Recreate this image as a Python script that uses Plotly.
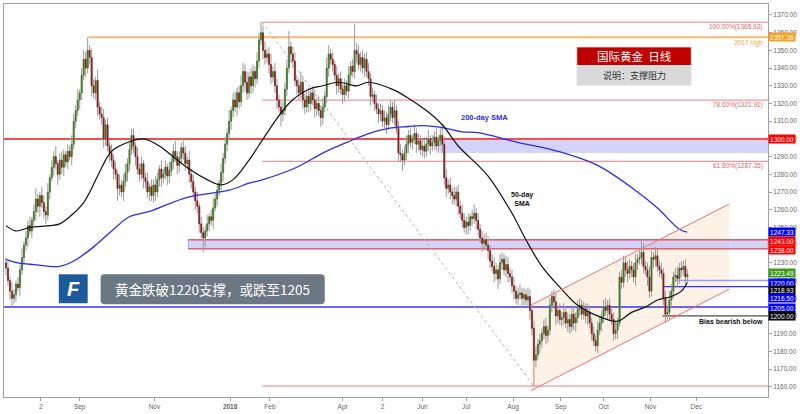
import plotly.graph_objects as go

# ---------------- data ----------------
closes = [
    1227, 1220, 1214, 1210, 1212, 1218, 1216, 1226, 1233, 1240,
    1244, 1251, 1248, 1254, 1259, 1266, 1262, 1268, 1264, 1259,
    1257, 1270, 1278, 1284, 1290, 1286, 1280, 1288, 1284, 1291,
    1287, 1293, 1290, 1297, 1310, 1316, 1322, 1326, 1336, 1345,
    1340, 1350, 1346, 1330, 1326, 1333, 1318, 1314, 1312, 1300,
    1308, 1296, 1292, 1288, 1283, 1280, 1272, 1274, 1270, 1276,
    1281, 1286, 1294, 1302, 1296, 1290, 1283, 1280, 1286, 1278,
    1276, 1270, 1273, 1268, 1274, 1270, 1277, 1283, 1278, 1280,
    1284, 1279, 1282, 1287, 1293, 1290, 1285, 1289, 1295, 1292,
    1286, 1288, 1280, 1276, 1270, 1265, 1262, 1252, 1247, 1244,
    1248, 1252, 1256, 1254, 1261, 1266, 1271, 1275, 1281, 1289,
    1297, 1303, 1310, 1316, 1322, 1318, 1326, 1321, 1330, 1338,
    1332, 1326, 1335, 1330, 1338, 1334, 1344, 1356, 1360, 1350,
    1346, 1348, 1342, 1335, 1338, 1330, 1322, 1318, 1314, 1316,
    1328, 1340, 1352, 1348, 1344, 1333, 1330, 1326, 1332, 1322,
    1318, 1324, 1320, 1326, 1322, 1317, 1320, 1316, 1312, 1318,
    1324, 1340, 1348, 1345, 1342, 1336, 1330, 1334, 1328, 1325,
    1330, 1327, 1336, 1341, 1338, 1350, 1348, 1342, 1346, 1340,
    1345, 1338, 1334, 1324, 1325, 1320, 1317, 1314, 1316, 1310,
    1312, 1308, 1314, 1318, 1312, 1316, 1306, 1292, 1291, 1288,
    1292, 1297, 1302, 1298, 1300, 1303, 1297, 1299, 1294, 1296,
    1293, 1297, 1300, 1296, 1298, 1301, 1296, 1299, 1302, 1297,
    1278, 1272, 1274, 1270, 1268, 1266, 1270, 1262, 1258, 1254,
    1250, 1253, 1251, 1256, 1255, 1258, 1254, 1249, 1244, 1241,
    1243, 1240, 1237, 1231, 1228, 1224, 1226, 1221, 1230, 1232,
    1226, 1229, 1224, 1222, 1217, 1214, 1210, 1212, 1213, 1210,
    1212, 1209, 1211, 1203, 1193, 1175, 1178, 1184, 1186, 1190,
    1194, 1189, 1192, 1206, 1211, 1208, 1200, 1203, 1198, 1199,
    1202, 1196, 1198, 1194, 1201, 1196, 1199, 1204, 1206, 1201,
    1204, 1200, 1202, 1196, 1190, 1186, 1183, 1192, 1196, 1200,
    1205, 1203, 1206, 1201, 1198, 1190, 1192, 1196, 1222, 1219,
    1230, 1226, 1224, 1228, 1226, 1222, 1230, 1232, 1233, 1236,
    1228, 1226, 1222, 1214, 1233, 1232, 1234, 1228, 1226, 1224,
    1210, 1201, 1202, 1209, 1214, 1222, 1223, 1221, 1227, 1226,
    1228, 1222, 1223.49,
]
first_open = 1230

upper_wick = [
    3, 4, 2, 5, 3, 2, 4, 3, 5, 2,
    4, 3, 5, 2, 4, 6, 3, 2, 5, 4,
    3, 5, 2, 4, 3, 6, 2, 4, 5, 3,
    2, 4, 3, 5, 4, 3, 6, 2, 4, 5,
    4, 7.4, 3, 5, 4, 2, 6, 3, 4, 5,
    3, 4, 2, 5, 3, 4, 2, 6, 3, 4,
    5, 3, 4, 3.5, 4, 2, 5, 3, 4, 2,
    3, 5, 2, 4, 3, 5, 4, 2, 5, 3,
    4, 2, 5, 3, 4, 6, 3, 4, 3, 5,
    4, 2, 5, 3, 4, 3, 5, 2, 4, 3,
    3, 5, 2, 4, 6, 3, 4, 2, 5, 3,
    4, 3, 6, 2, 4, 5, 3, 4, 6, 5,
    4, 6, 3, 5, 4, 3, 5, 4, 5.92, 4,
    5, 3, 4, 6, 3, 5, 4, 3, 4, 5,
    4, 5, 9, 3, 4, 5, 3, 4, 6, 3,
    4, 3, 5, 2, 4, 6, 3, 4, 3, 5,
    3, 6, 5, 3, 4, 2, 5, 3, 4, 3,
    4, 3, 5, 3, 4, 15, 4, 5, 3, 4,
    3, 4, 5, 3, 4, 2, 5, 3, 4, 3,
    4, 3, 5, 4, 3, 6, 3, 4, 5, 3,
    4, 5, 3, 4, 2, 5, 3, 4, 3, 4,
    3, 4, 5, 2, 4, 3, 5, 3, 4, 6,
    4, 5, 3, 4, 2, 5, 3, 4, 3, 5,
    4, 3, 5, 2, 4, 5, 3, 4, 3, 4,
    3, 4, 5, 3, 4, 5, 4, 3, 5, 4,
    3, 5, 4, 3, 4, 5, 3, 4, 5, 3,
    4, 3, 5, 4, 3, 4, 5, 3, 4, 3,
    4, 5, 3, 4, 3, 4, 5, 3, 4, 3,
    5, 3, 4, 3, 5, 4, 3, 5, 4, 3,
    4, 3, 5, 4, 3, 4, 3, 5, 4, 3,
    4, 5, 3, 4, 3, 4, 5, 3, 3, 4,
    4, 3, 5, 4, 3, 4, 5, 3, 4, 7,
    5, 3, 4, 6, 4, 3, 5, 4, 3, 4,
    3, 4, 3, 5, 4, 3, 4, 5, 3, 4,
    3, 4, 3,
]
lower_wick = [
    4, 3, 5, 5, 3, 4, 2, 5, 3, 4,
    3, 5, 2, 4, 3, 5, 4, 6, 3, 4,
    5, 3, 4, 2, 5, 3, 6, 3, 4, 5,
    3, 4, 2, 5, 3, 4, 3, 5, 4, 3,
    5, 3, 4, 6, 3, 4, 5, 3, 4, 5,
    4, 3, 5, 4, 6, 3, 7, 4, 3, 5,
    3, 5, 4, 3, 4, 5, 3, 4, 3, 6,
    4, 3, 5, 3, 4, 5, 3, 4, 5, 3,
    3, 5, 4, 3, 4, 3, 5, 4, 3, 4,
    4, 3, 5, 4, 3, 5, 4, 5, 3, 8,
    5, 3, 4, 3, 5, 2, 4, 3, 4, 5,
    3, 4, 3, 5, 4, 3, 5, 4, 3, 4,
    5, 4, 3, 5, 4, 5, 3, 4, 3, 5,
    4, 3, 5, 4, 3, 4, 5, 3, 7, 4,
    3, 4, 3, 5, 4, 3, 5, 4, 3, 5,
    4, 3, 5, 4, 3, 5, 4, 3, 5, 4,
    3, 4, 5, 3, 4, 3, 5, 4, 3, 5,
    4, 3, 4, 5, 3, 4, 5, 3, 4, 3,
    5, 3, 4, 5, 3, 4, 3, 5, 4, 3,
    4, 5, 3, 4, 3, 4, 3, 5, 4, 6,
    3, 4, 5, 3, 4, 3, 5, 4, 3, 4,
    4, 3, 4, 5, 3, 4, 3, 4, 3, 5,
    4, 5, 3, 4, 5, 3, 4, 5, 3, 4,
    3, 4, 5, 3, 4, 3, 5, 4, 3, 5,
    4, 3, 5, 4, 3, 5, 4, 6, 3, 4,
    3, 4, 5, 3, 4, 5, 3, 4, 3, 5,
    4, 3, 4, 5, 4, 14.63, 4, 3, 5, 4,
    3, 5, 4, 3, 4, 3, 5, 4, 3, 4,
    4, 3, 5, 4, 3, 4, 5, 3, 4, 3,
    3, 4, 5, 3, 4, 3, 3, 4, 3, 5,
    4, 3, 5, 4, 3, 4, 3, 5, 2, 4,
    3, 4, 5, 3, 4, 3, 5, 4, 3, 4,
    4, 3, 5, 4, 3, 5, 4, 3, 4, 3,
    4, 5, 3, 4, 3, 4, 3, 5, 3, 4,
    3, 4, 3,
]

sma50_bars = [0, 5, 12, 22, 27, 32, 39, 46, 51, 54, 61, 69, 77, 86, 92, 101, 108, 114, 122,
              132, 142, 152, 159, 167, 176, 182, 194, 202, 211, 219, 227, 237, 242, 254,
              261, 269, 279, 287, 297, 307, 314, 321, 327, 334, 339, 342]
sma50_vals = [1251, 1248, 1250, 1251, 1252, 1256, 1264, 1279, 1290, 1294, 1298, 1300, 1296,
              1288, 1283, 1277, 1274, 1277, 1288, 1305, 1320, 1328, 1330, 1332, 1330, 1332,
              1328, 1323, 1316, 1308, 1296, 1285, 1279, 1258, 1243, 1228, 1215, 1206, 1200,
              1197, 1202, 1205, 1209, 1211, 1214, 1218.93]

sma200_bars = [0, 6, 14, 27, 34, 44, 54, 62, 72, 91, 112, 122, 129, 146, 159, 171, 182, 192,
               202, 209, 221, 229, 237, 257, 277, 297, 317, 327, 338, 342]
sma200_vals = [1232, 1230, 1229, 1228, 1231, 1239, 1249, 1256, 1259, 1267, 1271, 1275, 1277,
               1284, 1292, 1298, 1303, 1306, 1307, 1307.5, 1306, 1304, 1303.5, 1298, 1293,
               1285, 1270, 1261, 1249, 1247.33]

tick_bars = [17.5, 37, 74.5, 112.5, 132.5, 169, 189, 209, 231, 254.5, 278.5, 300, 323.5, 346.5]
tick_text = ["2", "Sep", "Nov", "<b>2018</b>", "Feb", "Apr", "2", "Jun", "Jul", "Aug",
             "Sep", "Oct", "Nov", "Dec"]

# key levels
fib_levels = [1365.92, 1321.91, 1287.35, 1160.37]
fib_labels = ["100.00%(1365.92)", "78.60%(1321.91)", "61.80%(1287.35)", ""]
high_2017 = 1357.36
res_1300 = 1300.00
zone_top_low = 1292.1
zone2_hi, zone2_lo = 1243.00, 1238.00
lvl_1220, lvl_1216, lvl_1205, lvl_1200 = 1220.00, 1216.50, 1205.00, 1200.00

# fib swing (Jan high -> Aug low), channel anchors
swing_start_bar, swing_end_bar = 128.5, 265
chan_up = [(263.5, 1206.1), (363, 1263.2)]
chan_lo = [(263.5, 1157.8), (363, 1215.1)]

# right-axis price tags: value, colour, vertical nudge (px)
tag_vals = [1357.36, 1300.00, 1247.33, 1243.00, 1238.00, 1223.49, 1220.00, 1218.93, 1216.50, 1205.00, 1200.00]
tag_cols = ["#f5a01e", "#ff0000", "#0000ff", "#ff0000", "#ff0000", "#3c9a1e", "#0000ff", "#000000", "#0000ff", "#0000ff", "#000000"]
tag_nudge = [0, 0, 0, -1, -1, 1, -2, -8, -11, -1, 0]

# ---------------- build ----------------
n = len(closes)
bars = list(range(n))
opens = [first_open] + closes[:-1]
highs = [max(o, c) + u for o, c, u in zip(opens, closes, upper_wick)]
lows = [min(o, c) - l for o, c, l in zip(opens, closes, lower_wick)]
body_hi = [max(o, c) for o, c in zip(opens, closes)]
body_lo = [min(o, c) for o, c in zip(opens, closes)]

X0, X1 = -1, 382.5
Y0, Y1 = 1154.2, 1376.2
L, R, T, B = 3, 30, 4, 16
W, H = 800, 414
PW, PH = W - L - R, H - T - B


def px(xp):
    return (xp - L) / PW


def py(yp):
    return (H - B - yp) / PH


fig = go.Figure()
fig.add_trace(go.Candlestick(
    x=bars, open=opens, high=highs, low=lows, close=closes,
    increasing=dict(line=dict(color="#9a9a9a", width=1), fillcolor="#9a9a9a"),
    decreasing=dict(line=dict(color="#9a9a9a", width=1), fillcolor="#9a9a9a"),
    whiskerwidth=0, showlegend=False, hoverinfo="skip"))
fig.add_trace(go.Candlestick(
    x=bars, open=opens, high=body_hi, low=body_lo, close=closes,
    increasing=dict(line=dict(color="#3a7a1c", width=0.5), fillcolor="#3a7a1c"),
    decreasing=dict(line=dict(color="#8e1414", width=0.5), fillcolor="#8e1414"),
    whiskerwidth=0, showlegend=False, hoverinfo="skip"))
fig.add_trace(go.Scatter(x=sma200_bars, y=sma200_vals, mode="lines",
                         line=dict(color="#2b2bff", width=1.3, shape="spline", smoothing=1.0),
                         showlegend=False, hoverinfo="skip"))
fig.add_trace(go.Scatter(x=sma50_bars, y=sma50_vals, mode="lines",
                         line=dict(color="#111111", width=1.2, shape="spline", smoothing=1.0),
                         showlegend=False, hoverinfo="skip"))

shapes = []
lav = "rgba(170,170,245,0.5)"
# channel fill
shapes.append(dict(type="path", xref="x", yref="y", layer="below",
                   path=f"M {chan_up[0][0]},{chan_up[0][1]} L {chan_up[1][0]},{chan_up[1][1]} "
                        f"L {chan_lo[1][0]},{chan_lo[1][1]} L {chan_lo[0][0]},{chan_lo[0][1]} Z",
                   fillcolor="rgba(252,225,200,0.45)", line=dict(width=0)))
# zones
shapes.append(dict(type="rect", xref="x", yref="y", x0=217.5, x1=X1, y0=zone_top_low, y1=res_1300,
                   fillcolor=lav, line=dict(width=0), layer="below"))
shapes.append(dict(type="rect", xref="x", yref="y", x0=91.5, x1=X1, y0=zone2_lo, y1=zone2_hi,
                   fillcolor=lav, line=dict(width=1, color="#a8a8f0"), layer="below"))
# fib lines
for lv in fib_levels:
    shapes.append(dict(type="line", xref="x", yref="y", x0=swing_start_bar, x1=X1, y0=lv, y1=lv,
                       line=dict(color="#f07c7c", width=1), layer="below"))
shapes.append(dict(type="line", xref="x", yref="y", x0=41.5, x1=X1, y0=high_2017, y1=high_2017,
                   line=dict(color="#f8b870", width=2), layer="below"))
shapes.append(dict(type="line", xref="x", yref="y", x0=X0, x1=X1, y0=res_1300, y1=res_1300,
                   line=dict(color="#f05050", width=2), layer="below"))
for lv in (zone2_hi, zone2_lo):
    shapes.append(dict(type="line", xref="x", yref="y", x0=91.5, x1=X1, y0=lv, y1=lv,
                       line=dict(color="#f05a6a", width=1.5), layer="below"))
shapes.append(dict(type="line", xref="x", yref="y", x0=336, x1=X1, y0=lvl_1220, y1=lvl_1220,
                   line=dict(color="#9a9aff", width=1.5), layer="below"))
shapes.append(dict(type="line", xref="x", yref="y", x0=330, x1=X1, y0=lvl_1216, y1=lvl_1216,
                   line=dict(color="#3030ff", width=1.2), layer="below"))
shapes.append(dict(type="line", xref="x", yref="y", x0=X0, x1=X1, y0=lvl_1205, y1=lvl_1205,
                   line=dict(color="#3535ff", width=1.5), layer="below"))
shapes.append(dict(type="line", xref="x", yref="y", x0=329.5, x1=X1, y0=lvl_1200, y1=lvl_1200,
                   line=dict(color="#222222", width=1), layer="below"))
# swing diagonal
shapes.append(dict(type="line", xref="x", yref="y", x0=swing_start_bar, y0=fib_levels[0],
                   x1=swing_end_bar, y1=fib_levels[-1],
                   line=dict(color="#b0b0b0", width=1, dash="dot"), layer="below"))
# channel lines
for ch in (chan_up, chan_lo):
    shapes.append(dict(type="line", xref="x", yref="y", x0=ch[0][0], y0=ch[0][1], x1=ch[1][0], y1=ch[1][1],
                       line=dict(color="#f07070", width=1)))
# title boxes
shapes.append(dict(type="rect", xref="paper", yref="paper", x0=px(578), x1=px(693), y0=py(66), y1=py(47),
                   fillcolor="#c00000", line=dict(width=1, color="#e8e8e8")))
shapes.append(dict(type="rect", xref="paper", yref="paper", x0=px(578), x1=px(693), y0=py(86), y1=py(66),
                   fillcolor="#d9d9d9", line=dict(width=1, color="#eeeeee")))
# logo & message box
shapes.append(dict(type="rect", xref="paper", yref="paper", x0=px(58), x1=px(87), y0=py(304), y1=py(275),
                   fillcolor="#1d5a9c", line=dict(width=0)))
x_a, x_b, y_a, y_b, rr = px(100), px(325), py(305), py(275), 4
rx, ry = rr / PW, rr / PH
shapes.append(dict(type="path", xref="paper", yref="paper",
                   path=(f"M {x_a+rx},{y_a} L {x_b-rx},{y_a} Q {x_b},{y_a} {x_b},{y_a+ry} "
                         f"L {x_b},{y_b-ry} Q {x_b},{y_b} {x_b-rx},{y_b} L {x_a+rx},{y_b} "
                         f"Q {x_a},{y_b} {x_a},{y_b-ry} L {x_a},{y_a+ry} Q {x_a},{y_a} {x_a+rx},{y_a} Z"),
                   fillcolor="#6c7784", line=dict(width=0)))

ann = []
small = dict(family="Liberation Sans, Arial, sans-serif", size=6.5)
for lv, lab in zip(fib_levels, fib_labels):
    if lab:
        ann.append(dict(xref="paper", yref="y", x=1, y=lv, xanchor="right", yanchor="top", xshift=-3, yshift=1,
                        text=lab, showarrow=False, font=dict(small, color="#e86464")))
ann.append(dict(xref="paper", yref="y", x=1, y=high_2017, xanchor="right", yanchor="top", xshift=-3, yshift=0,
                text="2017 high", showarrow=False, font=dict(small, color="#f0a040")))
ann.append(dict(xref="paper", yref="y", x=1, y=lvl_1200, xanchor="right", yanchor="top", xshift=-3, yshift=0,
                text="<b>Bias bearish below</b>", showarrow=False,
                font=dict(family="Liberation Sans, Arial, sans-serif", size=7, color="#111111")))
ann.append(dict(xref="x", yref="y", x=240, y=1312, xanchor="center", yanchor="middle",
                text="<b>200-day SMA</b>", showarrow=False,
                font=dict(family="Liberation Sans, Arial, sans-serif", size=7.5, color="#2b2bff")))
ann.append(dict(xref="x", yref="y", x=259, y=1266, xanchor="center", yanchor="middle",
                text="<b>50-day<br>SMA</b>", showarrow=False,
                font=dict(family="Liberation Sans, Arial, sans-serif", size=7, color="#111111")))
for v, col, nd in zip(tag_vals, tag_cols, tag_nudge):
    ann.append(dict(xref="paper", yref="y", x=1, y=v, xanchor="left", yanchor="middle", xshift=0, yshift=nd,
                    text=f"{v:.2f}", showarrow=False, bgcolor=col, width=25, height=7, borderpad=0.5,
                    font=dict(small, color="white")))
cjk = "Noto Sans CJK SC"
ann.append(dict(xref="paper", yref="paper", x=px(635.5), y=py(56.5), xanchor="center", yanchor="middle",
                text="国际黄金  日线", showarrow=False,
                font=dict(family=cjk, size=11.5, color="white")))
ann.append(dict(xref="paper", yref="paper", x=px(635.5), y=py(76), xanchor="center", yanchor="middle",
                text="说明：支撑阻力", showarrow=False,
                font=dict(family=cjk, size=9, color="#333333")))
ann.append(dict(xref="paper", yref="paper", x=px(212.5), y=py(290), xanchor="center", yanchor="middle",
                text="黄金跌破1220支撑，或跌至1205",
                showarrow=False, font=dict(family=cjk, size=13.5, color="white")))
ann.append(dict(xref="paper", yref="paper", x=px(73), y=py(289.5), xanchor="center", yanchor="middle",
                text="<b><i>F</i></b>", showarrow=False,
                font=dict(family="Liberation Sans, Arial, sans-serif", size=20, color="white")))

fig.update_layout(
    width=W, height=H, margin=dict(l=L, r=R, t=T, b=B),
    paper_bgcolor="white", plot_bgcolor="white",
    shapes=shapes, annotations=ann, showlegend=False, hovermode=False,
    xaxis=dict(range=[X0, X1], rangeslider=dict(visible=False), showgrid=False, zeroline=False,
               showline=True, linecolor="#a0a0a0", linewidth=1, mirror=True,
               ticks="outside", ticklen=3, tickcolor="#a0a0a0",
               tickvals=tick_bars, ticktext=tick_text,
               tickfont=dict(family="Liberation Sans, Arial, sans-serif", size=6.5, color="#666666")),
    yaxis=dict(range=[Y0, Y1], side="right", showgrid=False, zeroline=False,
               showline=True, linecolor="#a0a0a0", linewidth=1, mirror=True,
               ticks="outside", ticklen=3, tickcolor="#a0a0a0", dtick=10, tick0=1170,
               tickformat=".2f",
               tickfont=dict(family="Liberation Sans, Arial, sans-serif", size=6.5, color="#666666")),
)

fig.write_html("out.html", config={"displayModeBar": False},
               post_script="document.body.style.margin='0';document.body.style.padding='0';"
                           "document.body.style.overflow='hidden';")
